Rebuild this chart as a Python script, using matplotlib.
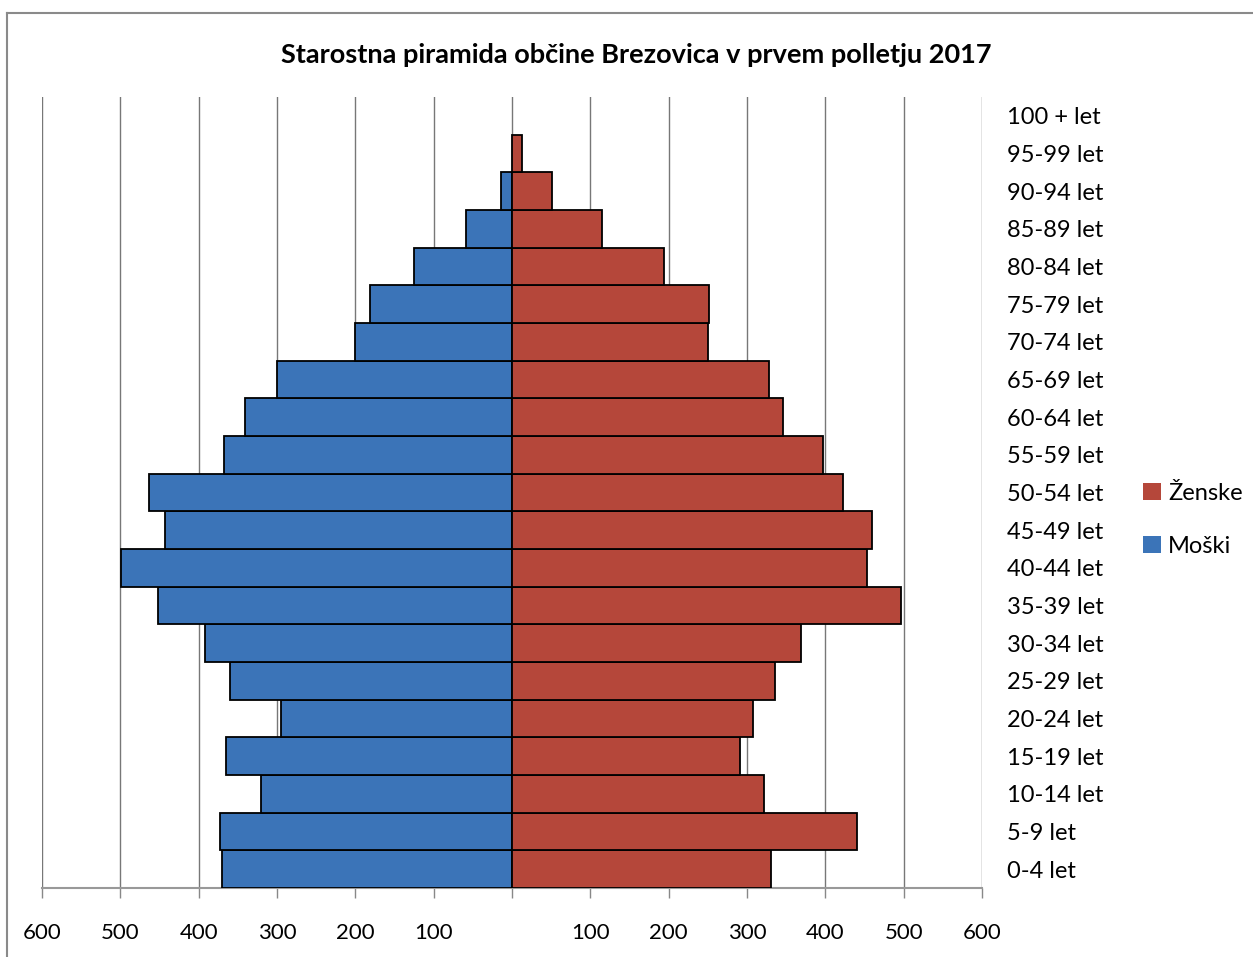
import numpy as np
import matplotlib.pyplot as plt
from matplotlib.patches import Patch
from matplotlib.lines import Line2D

plt.rcParams['font.family'] = ['Lato', 'DejaVu Sans']

# age groups, bottom to top
groups = ["0-4 let", "5-9 let", "10-14 let", "15-19 let", "20-24 let", "25-29 let",
          "30-34 let", "35-39 let", "40-44 let", "45-49 let", "50-54 let", "55-59 let",
          "60-64 let", "65-69 let", "70-74 let", "75-79 let", "80-84 let", "85-89 let",
          "90-94 let", "95-99 let", "100 + let"]
moski = [370, 373, 320, 365, 295, 360, 392, 452, 499, 443, 463, 368,
         341, 300, 200, 181, 125, 59, 14, 0, 0]
zenske = [330, 440, 322, 291, 308, 336, 369, 497, 453, 460, 423, 397,
          346, 328, 250, 252, 194, 115, 51, 13, 0]
xticks = [-600, -500, -400, -300, -200, -100, 0, 100, 200, 300, 400, 500, 600]
xticklabels = ["600", "500", "400", "300", "200", "100", "", "100", "200", "300", "400", "500", "600"]

blue = "#3b74b8"
red = "#b5473a"

fig = plt.figure(figsize=(12.53, 9.57), dpi=100)
ax = fig.add_axes([42/1253, 1 - 888/957, 940/1253, 791/957])

y = np.arange(len(groups))
# no outline for empty groups, so the zero line stays grey
edge_m = ["black" if v else "none" for v in moski]
edge_z = ["black" if v else "none" for v in zenske]
ax.barh(y, -np.array(moski), height=1.0, color=blue, edgecolor=edge_m, linewidth=1.3, zorder=3)
ax.barh(y, zenske, height=1.0, color=red, edgecolor=edge_z, linewidth=1.3, zorder=3)

ax.set_xlim(-600, 600)
ax.set_ylim(-0.5, len(groups) - 0.5)
ax.set_xticks(xticks)
ax.set_xticklabels(xticklabels, fontsize=16)
ax.tick_params(axis="x", direction="out", length=7, width=1, color="#888888", pad=18)
ax.xaxis.grid(True, color="#777777", linewidth=1, zorder=0)

ax.yaxis.tick_right()
ax.set_yticks(y)
ax.set_yticklabels(groups, fontsize=17)
ax.tick_params(axis="y", length=0, pad=18)

for s in ["left", "right", "top"]:
    ax.spines[s].set_visible(False)
ax.spines["bottom"].set_color("#999999")
ax.spines["bottom"].set_linewidth(1.5)

fig.text(636/1253, 1 - 55/957, "Starostna piramida občine Brezovica v prvem polletju 2017",
         ha="center", va="center", fontsize=19.5, fontweight="bold")

handles = [Patch(facecolor=red, edgecolor="none"), Patch(facecolor=blue, edgecolor="none")]
fig.legend(handles, ["Ženske", "Moški"], loc="center left",
           bbox_to_anchor=(1122/1253, 1 - 520/957), frameon=False, fontsize=17,
           handlelength=0.75, handleheight=0.75, handletextpad=0.3, labelspacing=1.35)

# outer chart frame (left and top edges visible)
fig.add_artist(Line2D([7/1253, 7/1253], [0, 1 - 13/957], transform=fig.transFigure,
                      color="#8a8a8a", linewidth=1.5))
fig.add_artist(Line2D([7/1253, 1], [1 - 13/957, 1 - 13/957], transform=fig.transFigure,
                      color="#8a8a8a", linewidth=1.5))

fig.savefig("out.png", dpi=100)
